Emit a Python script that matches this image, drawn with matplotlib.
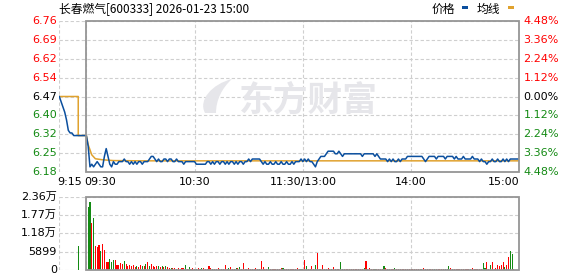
import matplotlib
matplotlib.use("Agg")
import matplotlib.pyplot as plt
from matplotlib.patches import Rectangle, PathPatch
from matplotlib.path import Path
from matplotlib.transforms import blended_transform_factory

plt.rcParams['font.family'] = ['DejaVu Sans', 'Noto Sans CJK SC']

# ---------------- data ----------------
title = "长春燃气[600333] 2026-01-23 15:00"
legend_labels = ["价格", "均线"]
watermark = "东方财富"
prev_close = 6.47
price_tick_labels = ["6.76", "6.69", "6.62", "6.54", "6.47", "6.40", "6.32", "6.25", "6.18"]
pct_tick_labels = ["4.48%", "3.36%", "2.24%", "1.12%", "0.00%", "1.12%", "2.24%", "3.36%", "4.48%"]
pct_steps = [4, 3, 2, 1, 0, -1, -2, -3, -4]
vol_ticks = [0, 5899, 11798, 17697, 23596]
vol_tick_labels = ["0", "5899", "1.18万", "1.77万", "2.36万"]
time_ticks = [-15, 0, 60, 120, 180, 240]
time_labels = ["9:15", "09:30", "10:30", "11:30/13:00", "14:00", "15:00"]

pre_minutes = list(range(-15, 0))
pre_price = [6.47, 6.45, 6.43, 6.41, 6.38, 6.34, 6.33, 6.33, 6.32, 6.32,
             6.32, 6.32, 6.32, 6.32, 6.32]

day_minutes = list(range(0, 241))
day_price = [6.32,
    6.28, 6.20, 6.21, 6.20, 6.21, 6.22, 6.21, 6.20, 6.20, 6.24,
    6.27, 6.24, 6.21, 6.20, 6.22, 6.21, 6.21, 6.22, 6.22, 6.22,
    6.23, 6.22, 6.22, 6.21, 6.22, 6.21, 6.22, 6.21, 6.22, 6.22,
    6.21, 6.22, 6.22, 6.22, 6.23, 6.24, 6.24, 6.23, 6.22, 6.23,
    6.22, 6.22, 6.23, 6.23, 6.22, 6.23, 6.23, 6.22, 6.22, 6.23,
    6.22, 6.22, 6.22, 6.21, 6.22, 6.22, 6.22, 6.22, 6.22, 6.22,
    6.21, 6.21, 6.21, 6.21, 6.21, 6.21, 6.22, 6.22, 6.21, 6.22,
    6.21, 6.22, 6.22, 6.21, 6.22, 6.22, 6.21, 6.22, 6.21, 6.22,
    6.22, 6.21, 6.22, 6.21, 6.22, 6.22, 6.21, 6.22, 6.22, 6.23,
    6.22, 6.23, 6.23, 6.23, 6.23, 6.23, 6.22, 6.21, 6.22, 6.21,
    6.21, 6.22, 6.21, 6.21, 6.22, 6.21, 6.21, 6.22, 6.21, 6.21,
    6.22, 6.21, 6.21, 6.22, 6.21, 6.22, 6.22, 6.22, 6.23, 6.22,
    6.23, 6.22, 6.23, 6.22, 6.22, 6.21, 6.20, 6.22, 6.23, 6.24,
    6.24, 6.24, 6.25, 6.26, 6.26, 6.26, 6.26, 6.25, 6.25, 6.26,
    6.25, 6.24, 6.25, 6.25, 6.25, 6.25, 6.25, 6.25, 6.25, 6.25,
    6.25, 6.25, 6.24, 6.25, 6.25, 6.25, 6.25, 6.25, 6.25, 6.24,
    6.25, 6.24, 6.23, 6.23, 6.23, 6.23, 6.22, 6.23, 6.22, 6.23,
    6.22, 6.22, 6.23, 6.22, 6.23, 6.23, 6.23, 6.24, 6.24, 6.24,
    6.24, 6.24, 6.24, 6.24, 6.24, 6.24, 6.23, 6.22, 6.23, 6.24,
    6.24, 6.24, 6.24, 6.23, 6.24, 6.24, 6.24, 6.24, 6.23, 6.24,
    6.24, 6.24, 6.24, 6.23, 6.24, 6.23, 6.23, 6.23, 6.24, 6.23,
    6.23, 6.23, 6.23, 6.24, 6.23, 6.23, 6.23, 6.22, 6.23, 6.22,
    6.22, 6.21, 6.22, 6.22, 6.23, 6.22, 6.22, 6.23, 6.22, 6.22,
    6.23, 6.22, 6.23, 6.22, 6.23, 6.23, 6.23, 6.23, 6.23, 6.23]

avg_minutes = [-15, -4.5, -4.5, 0, 1, 3, 5, 9, 15, 30, 60, 120, 180, 240]
avg_price = [6.47, 6.47, 6.32, 6.32, 6.285, 6.246, 6.231, 6.227, 6.224,
             6.223, 6.223, 6.223, 6.223, 6.223]

auction_minute = [-4.5]
auction_volume = [7800]
auction_dir = "G"

vol_minutes = list(range(1, 241))
volume = [
    20380, 21990, 15130, 16740, 7820, 7500, 8140, 6210, 8370, 6440,
    2575, 2575, 3540, 2480, 3220, 3220, 1700, 1700, 2250, 2000,
    2900, 2000, 1400, 1600, 1400, 1700, 1000, 1200, 900, 1700,
    1200, 1400, 2000, 2575, 1200, 2000, 1200, 900, 1200, 1400,
    900, 1200, 1000, 1200, 1000, 600, 700, 500, 600, 400,
    500, 400, 600, 500, 1600, 400, 1000, 300, 500, 400,
    300, 600, 400, 500, 700, 400, 300, 1300, 500, 400,
    300, 400, 500, 300, 400, 400, 1600, 300, 500, 900,
    300, 400, 500, 600, 1000, 300, 2350, 400, 300, 500,
    300, 400, 300, 500, 400, 400, 3000, 900, 300, 400,
    1000, 300, 400, 300, 400, 300, 300, 500, 700, 300,
    300, 400, 300, 300, 400, 300, 500, 300, 400, 300,
    3220, 1300, 400, 300, 1300, 300, 1600, 5370, 300, 400,
    1600, 400, 300, 800, 300, 400, 900, 300, 400, 300,
    2575, 400, 400, 300, 400, 300, 300, 400, 300, 400,
    300, 400, 300, 500, 2900, 300, 800, 400, 300, 400,
    300, 400, 300, 400, 1300, 600, 300, 400, 300, 400,
    500, 300, 400, 300, 400, 300, 300, 400, 300, 400,
    300, 400, 300, 400, 300, 300, 700, 400, 300, 400,
    300, 400, 300, 400, 300, 400, 300, 400, 300, 400,
    1300, 600, 300, 400, 300, 400, 300, 400, 300, 400,
    300, 400, 300, 700, 400, 300, 400, 300, 300, 2250,
    700, 2575, 300, 1600, 2575, 300, 700, 1600, 1300, 1600,
    2575, 900, 1600, 4180, 6120, 5150, 300, 0, 0, 9120]
vol_dir = ("GGRGRRRGRR" "RRGGGRRRRR" "GRRRRRRGRR" "GRGRGRRRRG"
           "RGRGRRGRRG" "RRRRGRGRRR" "GRRGRRRRRG" "RRRGRRRRGR"
           "RRGRGRRRRR" "RRRRRGRRRR" "GRRRRRRRGR" "RRRRRRRRGR"
           "RGRRRRGRRR" "RRRRRGRRRR" "GGRRRRRRRR" "RRRGRRRRRG"
           "RRRRGRRRRR" "GRRRRRRRRR" "RRRRRGRRRR" "RRGRRRRRGR"
           "GRRRRRRRRR" "RRRRRRRRRG" "GRRGRRRRRR" "RGRRGGRRRR")

# ---------------- style ----------------
RED = "#ff0000"
GREEN = "#138a13"
BLUE = "#0b4f9e"
ORANGE = "#e0a22e"
GRID = "#cfcfcf"
FRAME = "#959595"
WM = "#e6e6ea"
W, H = 578, 276

fig = plt.figure(figsize=(W / 100, H / 100), dpi=100)
fig.patch.set_facecolor("white")

x0, x1 = 59.3, 519.3
ax = fig.add_axes([x0 / W, 1 - 172 / H, (x1 - x0) / W, (172 - 21) / H])
ax2 = fig.add_axes([x0 / W, 1 - 270 / H, (x1 - x0) / W, (270 - 196.5) / H])

lo = prev_close * (1 - 0.0448)
hi = prev_close * (1 + 0.0448)
levels = [prev_close * (1 + s * 0.0112) for s in pct_steps]

for a in (ax, ax2):
    a.set_xlim(-15, 240)
    for s in a.spines.values():
        s.set_visible(False)
    a.set_xticks([])
    a.set_yticks([])
    a.patch.set_alpha(0)

ax.set_ylim(lo, hi)
ax2.set_ylim(0, vol_ticks[-1])

# watermark (logo leaf + text), figure-pixel placement
def px(x, y):
    return (x / W, 1 - y / H)

leaf = Path([px(205, 113), px(198, 100), px(212, 84), px(232, 79),
             px(222, 88), px(216, 100), px(216, 113), px(205, 113)],
            [Path.MOVETO, Path.CURVE4, Path.CURVE4, Path.CURVE4,
             Path.CURVE4, Path.CURVE4, Path.CURVE4, Path.CLOSEPOLY])
fig.patches.append(PathPatch(leaf, transform=fig.transFigure, fc=WM, ec="none", zorder=0))
fig.text(308.5 / W, 1 - 96.5 / H, watermark, fontsize=25, fontweight="bold", color=WM,
         ha="center", va="center_baseline", family=["Noto Sans CJK SC"], zorder=0)

dash = dict(color=GRID, lw=0.8, ls=(0, (3, 2)), zorder=1)
for lv in levels:
    ax.axhline(lv, **dash)
for v in vol_ticks:
    ax2.axhline(v, **dash)
for a in (ax, ax2):
    for t in time_ticks[:-1]:
        a.axvline(t, **dash)

# frames (solid box of the continuous session)
for a, (b, t) in ((ax, (lo, hi)), (ax2, (0, vol_ticks[-1]))):
    a.add_patch(Rectangle((0, b), 240, t - b, fill=False, ec=FRAME, lw=1.3,
                          clip_on=False, zorder=5))

# price + average
ax.plot(pre_minutes + day_minutes, pre_price + day_price, color=BLUE, lw=1.1, zorder=3)
ax.plot(avg_minutes, avg_price, color=ORANGE, lw=1.1, zorder=2)

# volume
cmap = {"R": RED, "G": GREEN}
ax2.bar(auction_minute, auction_volume, width=0.6, color=cmap[auction_dir], lw=0,
        zorder=3, antialiased=False)
ax2.bar(vol_minutes, volume, width=0.6, color=[cmap[c] for c in vol_dir], lw=0,
        zorder=3, antialiased=False)

# left price labels
tr_l = blended_transform_factory(fig.transFigure, ax.transData)
for lv, lab, s in zip(levels, price_tick_labels, pct_steps):
    col = RED if s > 0 else (GREEN if s < 0 else "black")
    ax.text(57 / W, lv, lab, transform=tr_l, ha="right", va="center",
            fontsize=8, color=col)
# right pct labels
for lv, lab, s in zip(levels, pct_tick_labels, pct_steps):
    col = RED if s > 0 else (GREEN if s < 0 else "black")
    ax.text(523.5 / W, lv, lab, transform=tr_l, ha="left", va="center",
            fontsize=8, color=col)
# volume labels
tr_v = blended_transform_factory(fig.transFigure, ax2.transData)
for v, lab in zip(vol_ticks, vol_tick_labels):
    ax2.text(57 / W, v, lab, transform=tr_v, ha="right", va="center",
             fontsize=8, color="black")

# time labels
tr_t = blended_transform_factory(ax.transData, fig.transFigure)
has = ["left", "left", "center", "center", "center", "right"]
for t, lab, ha in zip(time_ticks, time_labels, has):
    xx = t - 1.0 if ha == "left" else t
    ax.text(xx, 1 - 182 / H, lab, transform=tr_t, ha=ha, va="center",
            fontsize=8, color="black")

# title
fig.text(59 / W, 1 - 9.5 / H, title, ha="left", va="center", fontsize=8.5,
         family=["Noto Sans CJK SC", "DejaVu Sans"], color="black")

# legend
fig.text(431.5 / W, 1 - 9.5 / H, legend_labels[0], ha="left", va="center",
         fontsize=8.5, family=["Noto Sans CJK SC"], color="black")
fig.patches.append(Rectangle((462 / W, 1 - 9 / H), 5.5 / W, 3 / H,
                             transform=fig.transFigure, color=BLUE, lw=0))
fig.text(476.5 / W, 1 - 9.5 / H, legend_labels[1], ha="left", va="center",
         fontsize=8.5, family=["Noto Sans CJK SC"], color="black")
fig.patches.append(Rectangle((508 / W, 1 - 9 / H), 5.5 / W, 3 / H,
                             transform=fig.transFigure, color=ORANGE, lw=0))

fig.savefig("out.png", dpi=100)
